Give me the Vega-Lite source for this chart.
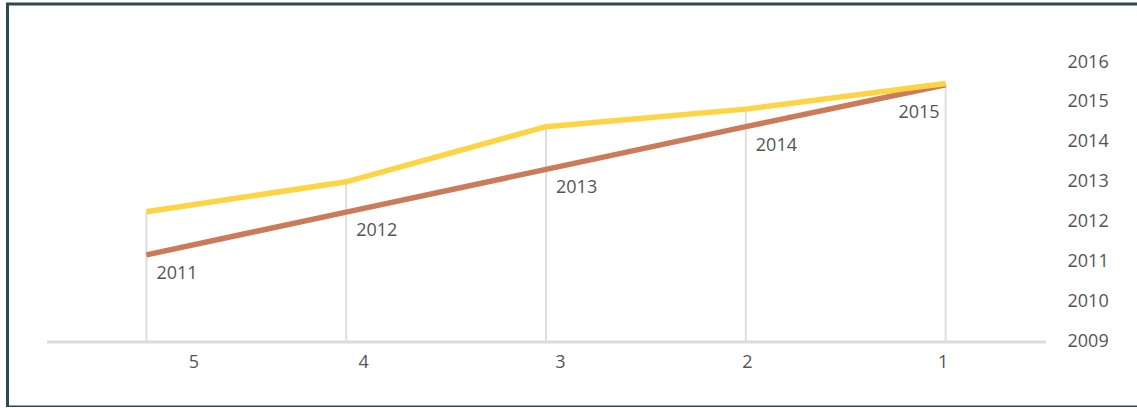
{
  "$schema": "https://vega.github.io/schema/vega-lite/v6.json",
  "width": 1135,
  "height": 403,
  "autosize": {"type": "none"},
  "padding": {"left": 7.5, "top": 4, "right": 0, "bottom": 0},
  "background": "white",
  "config": {
    "view": {"stroke": "#2d4a4c", "strokeWidth": 3},
    "font": "Open Sans"
  },
  "data": {
    "values": [
      {"rank": "5", "series": "B", "value": 2011.17, "label": "2011"},
      {"rank": "4", "series": "B", "value": 2012.24, "label": "2012"},
      {"rank": "3", "series": "B", "value": 2013.31, "label": "2013"},
      {"rank": "2", "series": "B", "value": 2014.38, "label": "2014"},
      {"rank": "1", "series": "B", "value": 2015.43, "label": "2015"},
      {"rank": "5", "series": "A", "value": 2012.25, "label": ""},
      {"rank": "4", "series": "A", "value": 2013.0, "label": ""},
      {"rank": "3", "series": "A", "value": 2014.38, "label": ""},
      {"rank": "2", "series": "A", "value": 2014.82, "label": ""},
      {"rank": "1", "series": "A", "value": 2015.46, "label": ""}
    ]
  },
  "encoding": {
    "x": {
      "field": "rank",
      "type": "nominal",
      "sort": ["5", "4", "3", "2", "1"],
      "scale": {"type": "point", "range": [39, 1038], "padding": 0.5},
      "axis": {
        "title": null,
        "domainColor": "#dcdcdc",
        "domainWidth": 3,
        "ticks": false,
        "grid": false,
        "offset": -65.5,
        "labelPadding": 21,
        "labelBaseline": "middle",
        "labelAngle": 0,
        "labelFont": "Open Sans",
        "labelFontSize": 18,
        "labelColor": "#555555",
        "labelOffset": {
          "condition": [
            {"test": "datum.label == '5'", "value": 47},
            {"test": "datum.label == '4'", "value": 17},
            {"test": "datum.label == '3'", "value": 14},
            {"test": "datum.label == '2'", "value": 1}
          ],
          "value": -3
        }
      }
    }
  },
  "layer": [
    {
      "transform": [
        {"aggregate": [{"op": "max", "field": "value", "as": "top"}], "groupby": ["rank"]}
      ],
      "mark": {"type": "rule", "color": "#dedede", "strokeWidth": 2},
      "encoding": {
        "y": {
          "field": "top",
          "type": "quantitative",
          "scale": {"domain": [2009, 2016], "range": [337.5, 58], "nice": false, "zero": false},
          "axis": {
            "title": null,
            "orient": "right",
            "offset": -75.5,
            "domain": false,
            "ticks": false,
            "grid": false,
            "labelPadding": 0,
            "labelAlign": "left",
            "labelFont": "Open Sans",
            "labelFontSize": 18,
            "labelColor": "#555555",
            "values": [2009, 2010, 2011, 2012, 2013, 2014, 2015, 2016],
            "format": "d"
          }
        },
        "y2": {"datum": 2009}
      }
    },
    {
      "transform": [{"filter": "datum.series == 'B'"}],
      "mark": {"type": "line", "color": "#cc7b5a", "strokeWidth": 5.5},
      "encoding": {
        "y": {"field": "value", "type": "quantitative", "title": null}
      }
    },
    {
      "transform": [{"filter": "datum.series == 'A'"}],
      "mark": {"type": "line", "color": "#fdd444", "strokeWidth": 5.5},
      "encoding": {
        "y": {"field": "value", "type": "quantitative", "title": null}
      }
    },
    {
      "transform": [{"filter": "datum.series == 'B' && datum.rank != '1'"}],
      "mark": {"type": "text", "align": "left", "baseline": "middle", "dx": 10, "dy": 19, "font": "Open Sans", "fontSize": 18, "color": "#555555"},
      "encoding": {
        "y": {"field": "value", "type": "quantitative", "title": null},
        "text": {"field": "label"}
      }
    },
    {
      "transform": [{"filter": "datum.series == 'B' && datum.rank == '1'"}],
      "mark": {"type": "text", "align": "right", "baseline": "middle", "dx": -6, "dy": 28, "font": "Open Sans", "fontSize": 18, "color": "#555555"},
      "encoding": {
        "y": {"field": "value", "type": "quantitative", "title": null},
        "text": {"field": "label"}
      }
    }
  ]
}
